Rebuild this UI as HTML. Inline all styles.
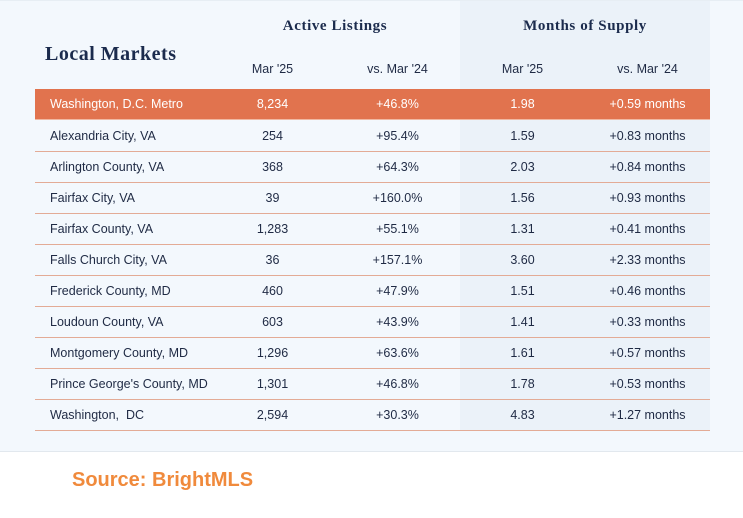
<!DOCTYPE html>
<html><head><meta charset="utf-8"><style>
html,body{margin:0;padding:0;}
body{width:743px;height:518px;position:relative;background:#fff;overflow:hidden;font-family:"Liberation Sans",Arial,sans-serif;color:#1f2a44;}
.panel{position:absolute;left:0;top:0;width:743px;height:452px;background:#f3f8fd;border-top:1px solid #e7eef4;border-bottom:1px solid #e2e8ee;box-sizing:border-box;}
.band{position:absolute;left:460px;top:1px;width:250px;height:430px;background:#ebf2f9;}
.title{position:absolute;left:45px;top:42px;font-family:"Liberation Serif",serif;font-weight:bold;font-size:20px;letter-spacing:0.5px;color:#1b2b4d;line-height:24px;white-space:nowrap;}
.gh{position:absolute;top:16px;width:250px;text-align:center;font-family:"Liberation Serif",serif;font-weight:bold;font-size:15px;letter-spacing:0.6px;color:#1b2b4d;line-height:20px;}
.sh{position:absolute;top:61px;width:125px;text-align:center;font-size:12.5px;line-height:17px;color:#1f2a44;}
.row{position:absolute;left:35px;width:675px;height:31px;font-size:12.5px;line-height:31px;border-bottom:1.5px solid #e3ab96;box-sizing:border-box;}
.row.hl{background:#e1734e;color:#fff;border-bottom:1.5px solid #f0b8a2;}
.row span{position:absolute;top:0;text-align:center;width:125px;white-space:nowrap;}
.row .n{left:15px;text-align:left;width:170px;}
.row .c1{left:175px;}.row .c2{left:300px;}.row .c3{left:425px;}.row .c4{left:550px;}
.src{position:absolute;left:72px;top:468px;font-weight:bold;font-size:20px;color:#f08a3c;line-height:24px;white-space:nowrap;}
</style></head><body>
<div class="panel"></div>
<div class="band"></div>
<div class="title">Local Markets</div>
<div class="gh" style="left:210px">Active Listings</div>
<div class="gh" style="left:460px">Months of Supply</div>
<div class="sh" style="left:210px">Mar '25</div>
<div class="sh" style="left:335px">vs. Mar '24</div>
<div class="sh" style="left:460px">Mar '25</div>
<div class="sh" style="left:585px">vs. Mar '24</div>

<div class="row hl" style="top:89px"><span class="n">Washington, D.C. Metro</span><span class="c1">8,234</span><span class="c2">+46.8%</span><span class="c3">1.98</span><span class="c4">+0.59 months</span></div>
<div class="row" style="top:121px"><span class="n">Alexandria City, VA</span><span class="c1">254</span><span class="c2">+95.4%</span><span class="c3">1.59</span><span class="c4">+0.83 months</span></div>
<div class="row" style="top:152px"><span class="n">Arlington County, VA</span><span class="c1">368</span><span class="c2">+64.3%</span><span class="c3">2.03</span><span class="c4">+0.84 months</span></div>
<div class="row" style="top:183px"><span class="n">Fairfax City, VA</span><span class="c1">39</span><span class="c2">+160.0%</span><span class="c3">1.56</span><span class="c4">+0.93 months</span></div>
<div class="row" style="top:214px"><span class="n">Fairfax County, VA</span><span class="c1">1,283</span><span class="c2">+55.1%</span><span class="c3">1.31</span><span class="c4">+0.41 months</span></div>
<div class="row" style="top:245px"><span class="n">Falls Church City, VA</span><span class="c1">36</span><span class="c2">+157.1%</span><span class="c3">3.60</span><span class="c4">+2.33 months</span></div>
<div class="row" style="top:276px"><span class="n">Frederick County, MD</span><span class="c1">460</span><span class="c2">+47.9%</span><span class="c3">1.51</span><span class="c4">+0.46 months</span></div>
<div class="row" style="top:307px"><span class="n">Loudoun County, VA</span><span class="c1">603</span><span class="c2">+43.9%</span><span class="c3">1.41</span><span class="c4">+0.33 months</span></div>
<div class="row" style="top:338px"><span class="n">Montgomery County, MD</span><span class="c1">1,296</span><span class="c2">+63.6%</span><span class="c3">1.61</span><span class="c4">+0.57 months</span></div>
<div class="row" style="top:369px"><span class="n">Prince George's County, MD</span><span class="c1">1,301</span><span class="c2">+46.8%</span><span class="c3">1.78</span><span class="c4">+0.53 months</span></div>
<div class="row" style="top:400px"><span class="n">Washington,&nbsp; DC</span><span class="c1">2,594</span><span class="c2">+30.3%</span><span class="c3">4.83</span><span class="c4">+1.27 months</span></div>

<div class="src">Source: BrightMLS</div>
</body></html>
